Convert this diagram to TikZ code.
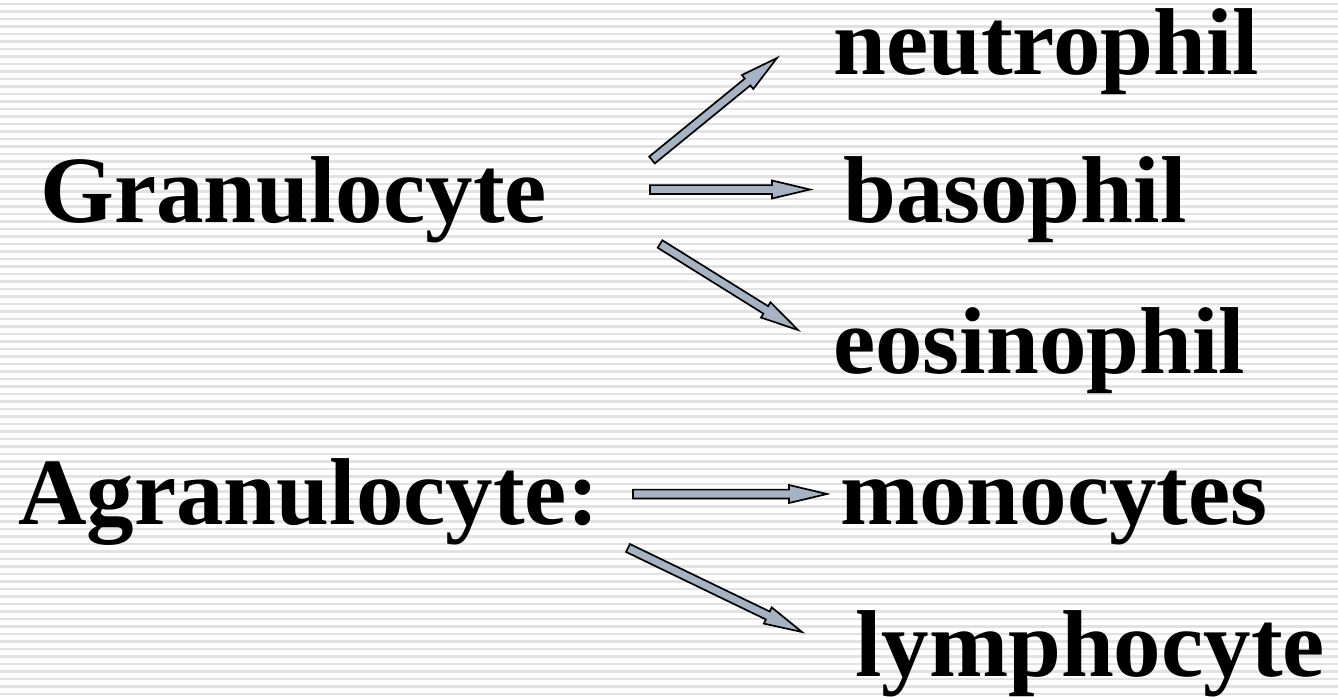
\documentclass[tikz,border=0pt]{standalone}
\usepackage{fontspec}
\setmainfont{Liberation Serif}
\usetikzlibrary{calc}
\definecolor{stripe}{RGB}{226,226,226}
\definecolor{arrfill}{RGB}{165,179,194}
\newcommand\blockarr[2]{%
  \coordinate (#1#2h) at ($(#2)!38pt!(#1)$);
  \draw[barrow] ($(#1)!4.4pt!90:(#2)$) -- ($(#1#2h)!4.4pt!-90:(#1)$) -- ($(#1#2h)!9pt!-90:(#1)$) -- (#2)
    -- ($(#1#2h)!9pt!90:(#1)$) -- ($(#1#2h)!4.4pt!90:(#1)$) -- ($(#1)!4.4pt!-90:(#2)$) -- cycle;}
\begin{document}
\begin{tikzpicture}[x=1pt,y=-1pt,
  lbl/.style={anchor=base west, inner sep=0pt, font=\fontsize{95}{100}\selectfont\bfseries},
  barrow/.style={draw=black, line width=1.7pt, fill=arrfill, line join=miter}]
\useasboundingbox (0,0) rectangle (1338,696);
\foreach \i in {0,...,92} \draw[stripe, line width=2.3pt] (0,4+7.5*\i) -- (1338,4+7.5*\i);
\node[lbl] (gran) at (40,222) {Granulocyte};
\node[lbl] (neut) at (833,74) {neutrophil};
\node[lbl] (baso) at (843,222) {basophil};
\node[lbl] (eos) at (833,373) {eosinophil};
\node[lbl] (agran) at (18,524) {Agranulocyte:};
\node[lbl] (mono) at (840,524) {monocytes};
\node[lbl] (lymph) at (855,676) {lymphocyte};
\coordinate (a1) at (652,160); \coordinate (b1) at (777,58);
\coordinate (a2) at (650,189.5); \coordinate (b2) at (810,189.5);
\coordinate (a3) at (660,244); \coordinate (b3) at (798,330);
\coordinate (a4) at (633,494); \coordinate (b4) at (827,494);
\coordinate (a5) at (628,548); \coordinate (b5) at (802,632);
\blockarr{a1}{b1}
\blockarr{a2}{b2}
\blockarr{a3}{b3}
\blockarr{a4}{b4}
\blockarr{a5}{b5}
\end{tikzpicture}
\end{document}
